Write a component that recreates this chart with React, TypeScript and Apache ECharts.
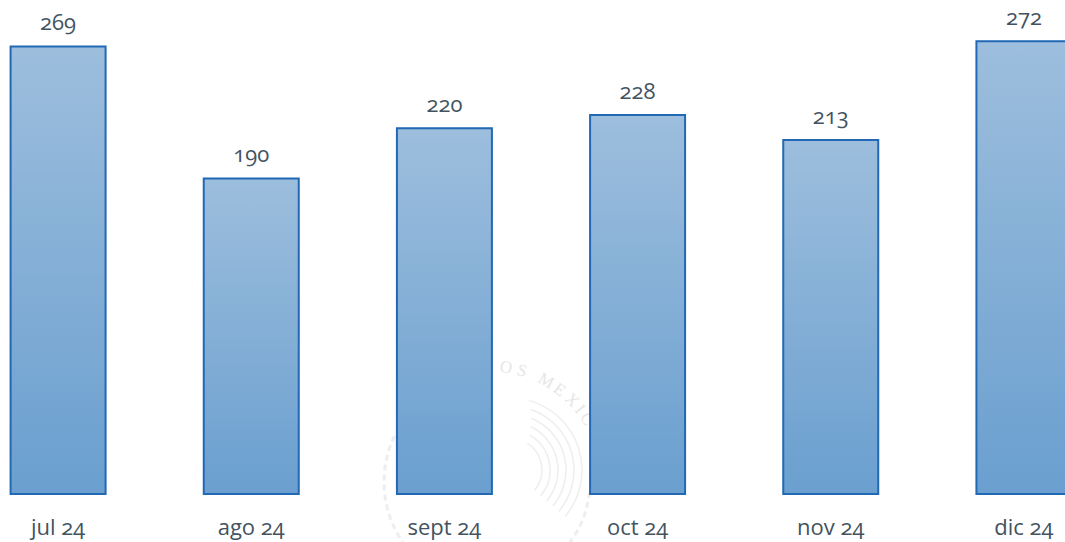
import React, { useEffect, useRef } from "react";
import * as echarts from "echarts";

const categories = ["jul 24", "ago 24", "sept 24", "oct 24", "nov 24", "dic 24"];
const values = [269, 190, 220, 228, 213, 272];

const sealLetters = ["O", "S", "M", "E", "X", "I", "C"];
const sealAngles = [8, 16, 29, 37, 45, 51, 57];
const sealArcs = [72, 64, 56, 48, 40, 32];

export default function App() {
  const ref = useRef<HTMLDivElement>(null);
  useEffect(() => {
    const chart = echarts.init(ref.current!, null, { renderer: "svg" });
    const cx = 490;
    const cy = 482;
    const seal: any[] = [];
    sealLetters.forEach((ch, i) => {
      const a = (sealAngles[i] * Math.PI) / 180;
      seal.push({
        type: "text",
        x: cx + 116 * Math.sin(a),
        y: cy - 116 * Math.cos(a),
        rotation: -a,
        z: -10,
        style: { text: ch, font: "17px 'Liberation Serif'", fill: "#e6e6e6", textAlign: "center", textVerticalAlign: "middle" },
      });
    });
    sealArcs.forEach((r, i) => {
      seal.push({
        type: "arc",
        z: -10,
        shape: { cx: cx + 20, cy: cy - 12, r, startAngle: -1.3 + i * 0.06, endAngle: 0.7 },
        style: { stroke: "#eeeeee", lineWidth: 1.5, fill: "none" },
      });
    });
    seal.push({
      type: "arc",
      z: -10,
      shape: { cx, cy, r: 106, startAngle: 2.4, endAngle: 3.6 },
      style: { stroke: "#eeeeee", lineWidth: 3, fill: "none", lineDash: [6, 4] },
    });
    seal.push({
      type: "arc",
      z: -10,
      shape: { cx, cy, r: 100, startAngle: 0.1, endAngle: 0.9 },
      style: { stroke: "#eeeeee", lineWidth: 3, fill: "none", lineDash: [6, 4] },
    });
    chart.setOption({
      animation: false,
      backgroundColor: "#ffffff",
      graphic: seal,
      grid: { left: -38.5, width: 1159, top: 27, height: 468, outerBoundsMode: "none" },
      xAxis: {
        type: "category",
        data: categories,
        axisLine: { show: false },
        axisTick: { show: false },
        axisLabel: { fontFamily: "'Open Sans'", fontSize: 22, color: "#43535f", margin: 20 },
      },
      yAxis: { type: "value", min: 0, max: 280, show: false, splitLine: { show: false } },
      series: [
        {
          type: "bar",
          data: values,
          barWidth: 97,
          itemStyle: {
            borderColor: "#2168b5",
            borderWidth: 2,
            color: new echarts.graphic.LinearGradient(0, 0, 0, 1, [
              { offset: 0, color: "#9dbedd" },
              { offset: 1, color: "#6a9fcf" },
            ]),
          },
          label: {
            show: true,
            position: "top",
            distance: 13,
            fontFamily: "'Open Sans'",
            fontSize: 22,
            color: "#43535f",
          },
        },
      ],
    });
    return () => chart.dispose();
  }, []);
  return (
    <div
      ref={ref}
      style={{ position: "fixed", left: 0, top: 0, width: 1065, height: 542, fontFeatureSettings: '"onum"' }}
    />
  );
}
